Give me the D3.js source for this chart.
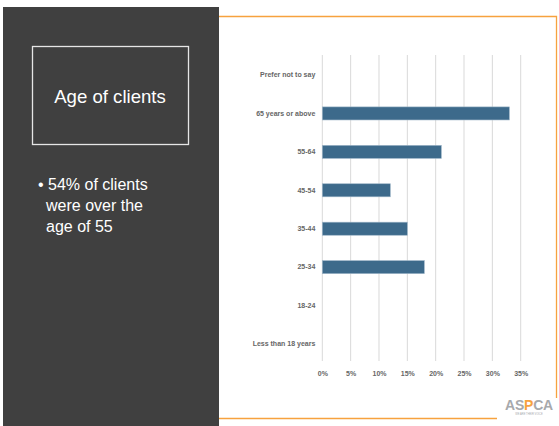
<!DOCTYPE html>
<html>
<head>
<meta charset="utf-8">
<script src="https://cdn.jsdelivr.net/npm/d3@7"></script>
<style>
  body { margin: 0; background: #fff; }
  svg { display: block; font-family: "Liberation Sans", Arial, sans-serif; }
</style>
</head>
<body>
<div id="chart"></div>
<script>
// chart data
var categories = ["Prefer not to say", "65 years or above", "55-64", "45-54", "35-44", "25-34", "18-24", "Less than 18 years"];
var values = [0, 33, 21, 12, 15, 18, 0, 0];
var ticks = [0, 5, 10, 15, 20, 25, 30, 35];
var bulletLines = ["\u2022 54% of clients", "were over the", "age of 55"];

var width = 559, height = 426;

var svg = d3.select("#chart")
  .append("svg")
  .attr("width", width)
  .attr("height", height);

// left dark panel
svg.append("rect")
  .attr("x", 3).attr("y", 7)
  .attr("width", 216).attr("height", 419)
  .attr("fill", "#404040");

svg.append("rect")
  .attr("x", 32.5).attr("y", 46.5)
  .attr("width", 156).attr("height", 98)
  .attr("fill", "none")
  .attr("stroke", "#e6e6e6")
  .attr("stroke-width", 1.3);

svg.append("text")
  .attr("x", 110).attr("y", 103)
  .attr("text-anchor", "middle")
  .attr("fill", "#fff")
  .attr("font-size", 18.6)
  .text("Age of clients");

svg.append("g")
  .selectAll("text")
  .data(bulletLines)
  .enter().append("text")
  .attr("x", function (d, i) { return i == 0 ? 38 : 46; })
  .attr("y", function (d, i) { return 190 + i * 21; })
  .attr("fill", "#fff")
  .attr("font-size", 16)
  .text(function (d) { return d; });

// orange frame
var orange = "#f7a23e";
svg.append("path")
  .attr("d", "M219,16.5 H556.5 V398")
  .attr("fill", "none")
  .attr("stroke", orange)
  .attr("stroke-width", 1.3);
svg.append("line")
  .attr("x1", 219).attr("x2", 497)
  .attr("y1", 418.5).attr("y2", 418.5)
  .attr("stroke", orange)
  .attr("stroke-width", 1.3);

// bar chart
var x = d3.scaleLinear()
  .domain([0, 35])
  .range([322.3, 520.7]);

var y = d3.scaleBand()
  .domain(categories)
  .range([55.8, 363.2])
  .paddingInner(0.66)
  .paddingOuter(0.33);

svg.append("g")
  .selectAll("line")
  .data(ticks)
  .enter().append("line")
  .attr("x1", function (d) { return x(d); })
  .attr("x2", function (d) { return x(d); })
  .attr("y1", 55)
  .attr("y2", 361)
  .attr("stroke", "#d9d9d9")
  .attr("stroke-width", 1);

svg.append("g")
  .selectAll("rect")
  .data(categories)
  .enter().append("rect")
  .filter(function (d, i) { return values[i] > 0; })
  .attr("x", x(0))
  .attr("y", function (d) { return y(d); })
  .attr("width", function (d) { return x(values[categories.indexOf(d)]) - x(0); })
  .attr("height", y.bandwidth())
  .attr("fill", "#3d6a8b")
  .attr("stroke", "#9fb6c8")
  .attr("stroke-width", 0.6);

var yAxis = svg.append("g")
  .attr("transform", "translate(" + x(0) + ",0)")
  .call(d3.axisLeft(y).tickSize(0).tickPadding(7));
yAxis.select(".domain").remove();
yAxis.selectAll("text")
  .attr("font-family", "Liberation Sans, Arial, sans-serif")
  .attr("font-size", 7)
  .attr("font-weight", "bold")
  .attr("fill", "#666");

var xAxis = svg.append("g")
  .attr("transform", "translate(0,368)")
  .call(d3.axisBottom(x).tickValues(ticks).tickSize(0).tickFormat(function (d) { return d + "%"; }));
xAxis.select(".domain").remove();
xAxis.selectAll("text")
  .attr("font-family", "Liberation Sans, Arial, sans-serif")
  .attr("font-size", 7)
  .attr("font-weight", "bold")
  .attr("fill", "#666");

// logo
var logo = svg.append("text")
  .attr("x", 505).attr("y", 409.5)
  .attr("font-size", 14)
  .attr("font-weight", "bold")
  .attr("letter-spacing", -0.2)
  .attr("fill", "#a7a9ac");
logo.append("tspan").text("AS");
logo.append("tspan").attr("fill", orange).text("P");
logo.append("tspan").text("CA");
svg.append("text")
  .attr("x", 529).attr("y", 414.5)
  .attr("text-anchor", "middle")
  .attr("font-size", 2.6)
  .attr("fill", "#a7a9ac")
  .text("WE ARE THEIR VOICE");
</script>
</body>
</html>
